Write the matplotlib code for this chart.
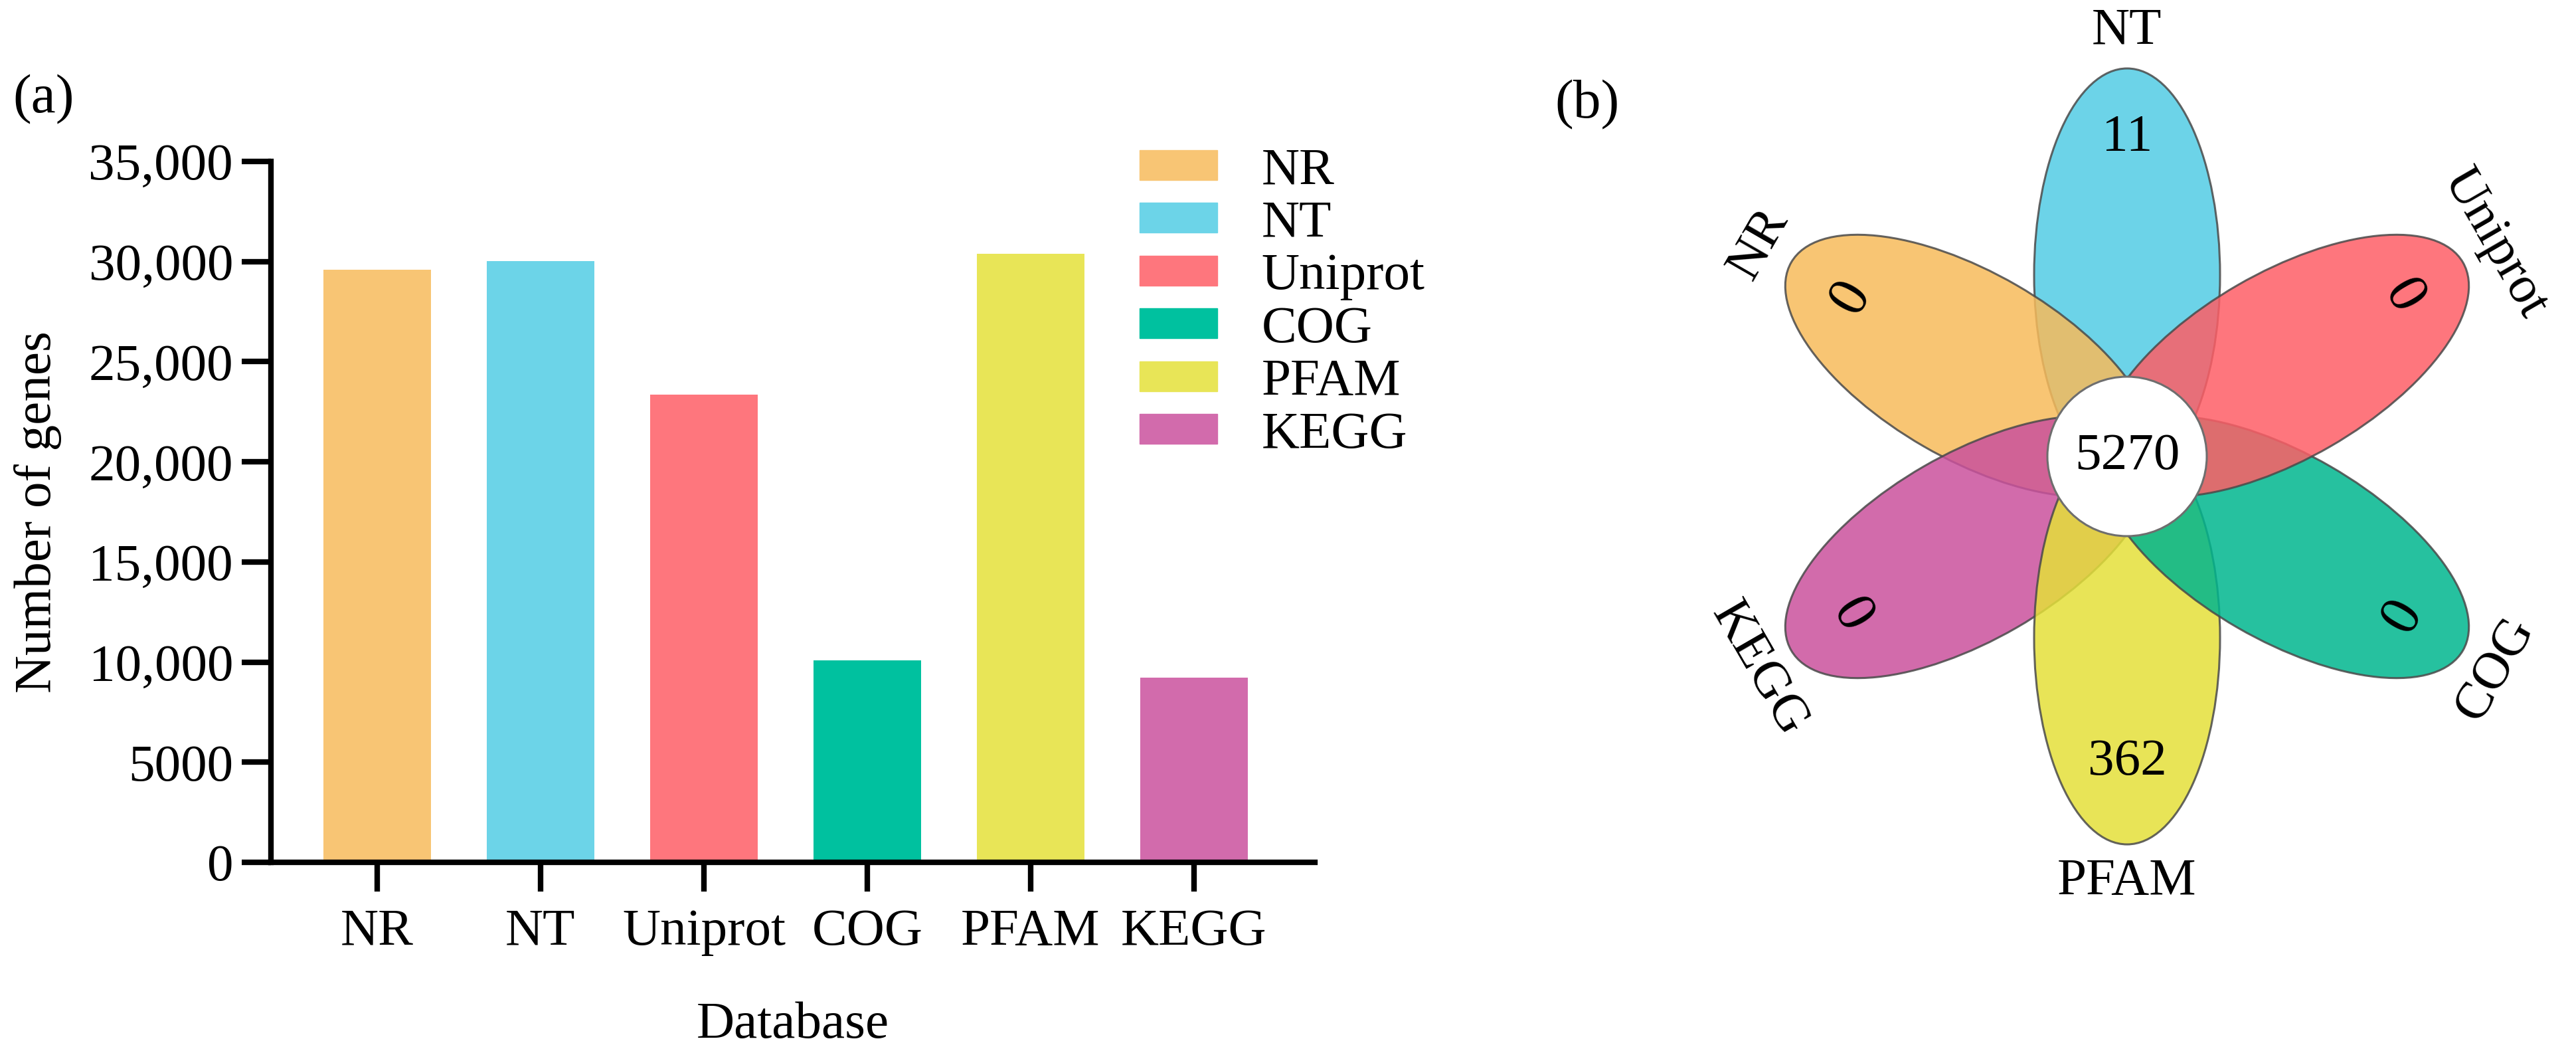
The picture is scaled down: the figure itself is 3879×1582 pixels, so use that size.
import numpy as np
import matplotlib
matplotlib.use("Agg")
import matplotlib.pyplot as plt
from matplotlib.patches import Ellipse, Circle, Patch
from matplotlib.colors import to_rgb

plt.rcParams['font.family'] = ['Liberation Serif', 'DejaVu Serif']

# ---- data ----
databases = ['NR', 'NT', 'Uniprot', 'COG', 'PFAM', 'KEGG']
gene_counts = [29600, 30020, 23360, 10070, 30380, 9210]
colors = ['#F8C574', '#6CD4E8', '#FE767D', '#00C19F', '#E8E557', '#D26BAC']
y_ticks = [0, 5000, 10000, 15000, 20000, 25000, 30000, 35000]
y_tick_labels = ['0', '5000', '10,000', '15,000', '20,000', '25,000', '30,000', '35,000']

# flower plot: unique counts per petal and the shared core
petal_names = ['NT', 'Uniprot', 'COG', 'PFAM', 'KEGG', 'NR']
petal_angles = [90, 30, -30, -90, -150, 150]
petal_counts = [11, 0, 0, 362, 0, 0]
petal_colors = ['#6CD4E8', '#FE767D', '#00C19F', '#E8E557', '#D26BAC', '#F8C574']
core_count = 5270

W, H = 3880, 1582
fs = 57

fig = plt.figure(figsize=(W / 100, H / 100), dpi=100)

# ---- (a) bar chart ----
ax = fig.add_axes([408 / W, 1 - 1298 / H, (1980 - 408) / W, (1298 - 243) / H])
x = np.arange(len(databases))
ax.bar(x, gene_counts, width=0.66, color=colors, label=databases)
ax.set_xlim(-0.65, 5.74)
ax.set_ylim(0, 35000)
ax.set_yticks(y_ticks)
ax.set_yticklabels(y_tick_labels)
ax.set_xticks(x)
ax.set_xticklabels(databases)
for s in ['top', 'right']:
    ax.spines[s].set_visible(False)
for s in ['left', 'bottom']:
    ax.spines[s].set_linewidth(6)
ax.tick_params(axis='both', length=32, width=6, labelsize=fs)
ax.tick_params(axis='y', pad=9)
ax.tick_params(axis='x', pad=18)
ax.set_xlabel('Database', fontsize=fs)
ax.set_ylabel('Number of genes', fontsize=fs)
ax.xaxis.set_label_coords(0.5, -(1543 - 1298) / 1055)
ax.xaxis.label.set_va('center')
ax.yaxis.set_label_coords(-(408 - 57) / 1572, 0.5)
ax.yaxis.label.set_va('center')

handles = [Patch(color=c, label=n) for c, n in zip(colors, databases)]
fig.legend(handles=handles, loc='upper left', bbox_to_anchor=(1716 / W, 1 - 222 / H),
           frameon=False, fontsize=fs, borderpad=0, borderaxespad=0,
           handlelength=1.475, handleheight=0.5, handletextpad=0.84, labelspacing=0.1)

fig.text(19 / W, 1 - 150 / H, '(a)', fontsize=60, va='center', ha='left')

# ---- (b) flower plot ----
cx, cy = 3203, 687
ax2 = fig.add_axes([2300 / W, 0, 1580 / W, 1])
ax2.set_xlim(2300 - cx, W - cx)
ax2.set_ylim(-(H - cy), cy)
ax2.axis('off')

alpha = 0.85
d, a, b = 273, 311, 140
draw_order = ['NT', 'NR', 'KEGG', 'PFAM', 'COG', 'Uniprot']
for name in draw_order:
    i = petal_names.index(name)
    ang = np.deg2rad(petal_angles[i])
    base = np.clip((np.array(to_rgb(petal_colors[i])) - (1 - alpha)) / alpha, 0, 1)
    ax2.add_patch(Ellipse((d * np.cos(ang), d * np.sin(ang)), 2 * a, 2 * b,
                          angle=petal_angles[i], facecolor=base, edgecolor='#4a4a4a',
                          linewidth=2.2, alpha=alpha))

ax2.add_patch(Circle((0, 0), 120, facecolor='white', edgecolor='#6e6e6e', linewidth=2.2, zorder=5))
ax2.text(0, 0, str(core_count), fontsize=fs, ha='center', va='center', zorder=6)

for name, ang_deg, cnt in zip(petal_names, petal_angles, petal_counts):
    ang = np.deg2rad(ang_deg)
    rot = 0 if ang_deg in (90, -90) else (60 if ang_deg in (150, -30) else -60)
    r_num = 480 if ang_deg != -90 else 460
    ax2.text(r_num * np.cos(ang), r_num * np.sin(ang), str(cnt),
             fontsize=fs if cnt else 62,
             ha='center', va='center', rotation=rot, rotation_mode='anchor', zorder=6)
    ax2.text(640 * np.cos(ang), 640 * np.sin(ang), name, fontsize=fs,
             ha='center', va='center', rotation=rot, rotation_mode='anchor', zorder=6)

fig.text(2341 / W, 1 - 158 / H, '(b)', fontsize=60, va='center', ha='left')

fig.savefig('out.png', dpi=100, facecolor='white')
